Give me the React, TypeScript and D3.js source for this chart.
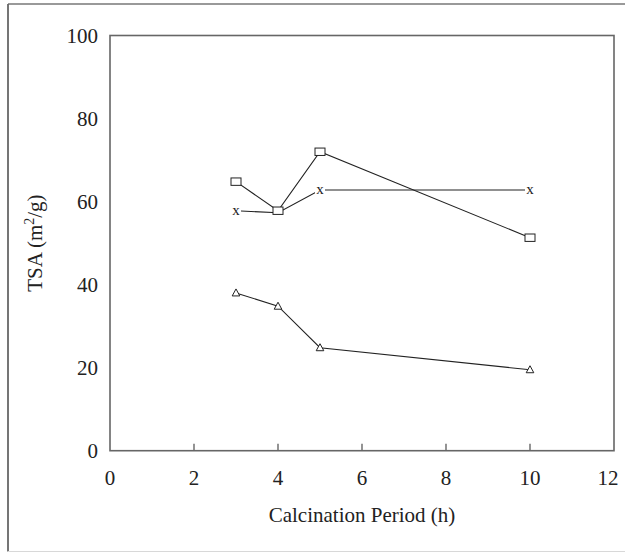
import React from "react";
import * as d3 from "d3";

const periods = [3, 4, 5, 10];
const squareSeries = [64.8, 57.8, 72.0, 51.3];
const crossSeries = [57.8, 57.3, 62.8, 62.8];
const triangleSeries = [38.0, 34.8, 24.8, 19.5];
const xTicks = [0, 2, 4, 6, 8, 10, 12];
const yTicks = [0, 20, 40, 60, 80, 100];

const W = 625;
const H = 553;
const L = 110;
const R = 614;
const T = 35.5;
const B = 450.7;
const FONT = "'Liberation Serif', 'Times New Roman', serif";

export default function App() {
  const x = d3.scaleLinear().domain([0, 12]).range([L, R]);
  const y = d3.scaleLinear().domain([0, 100]).range([B, T]);
  const line = d3
    .line<[number, number]>()
    .x((d) => x(d[0]))
    .y((d) => y(d[1]));
  const sq = periods.map((p, i) => [p, squareSeries[i]] as [number, number]);
  const cr = periods.map((p, i) => [p, crossSeries[i]] as [number, number]);
  const tr = periods.map((p, i) => [p, triangleSeries[i]] as [number, number]);
  const lineColor = "#222";

  return (
    <svg
      width={W}
      height={H}
      style={{ position: "absolute", left: 0, top: 0, background: "#fff" }}
      fontFamily={FONT}
    >
      <rect x={0} y={0} width={W} height={H} fill="#fff" />
      {/* outer frame */}
      <line x1={8} y1={4} x2={W + 2} y2={4} stroke="#777" strokeWidth={1.5} />
      <line x1={8} y1={4} x2={8} y2={551.5} stroke="#666" strokeWidth={1.8} />
      <line x1={8} y1={551.5} x2={W + 2} y2={551.5} stroke="#d8d8d8" strokeWidth={1} />

      {/* plot box */}
      <rect x={L} y={T} width={R - L} height={B - T} fill="none" stroke="#666" strokeWidth={1.6} />

      {/* x ticks inward */}
      {xTicks.filter((t) => t > 0 && t < 12).map((t) => (
        <line key={"xt" + t} x1={x(t)} x2={x(t)} y1={B} y2={B - 7} stroke="#666" strokeWidth={1.4} />
      ))}
      {xTicks.map((t) => (
        <text
          key={"xl" + t}
          x={t === 12 ? x(t) - 6 : x(t)}
          y={485}
          textAnchor="middle"
          fontSize={21}
          fill="#222"
        >
          {t}
        </text>
      ))}
      {yTicks.map((t) => (
        <text
          key={"yl" + t}
          x={98}
          y={y(t)}
          dy="0.34em"
          textAnchor="end"
          fontSize={21}
          fill="#222"
        >
          {t}
        </text>
      ))}

      <text x={(L + R) / 2} y={522} textAnchor="middle" fontSize={21} fill="#222">
        Calcination Period (h)
      </text>
      <text
        transform={`translate(42, ${(T + B) / 2}) rotate(-90)`}
        textAnchor="middle"
        fontSize={21}
        fill="#222"
      >
        TSA (m
        <tspan fontSize={14} dy={-8}>2</tspan>
        <tspan dy={8}>/g)</tspan>
      </text>

      {/* lines */}
      <path d={line(sq) || ""} fill="none" stroke={lineColor} strokeWidth={1.1} />
      <path d={line(cr) || ""} fill="none" stroke={lineColor} strokeWidth={1.1} />
      <path d={line(tr) || ""} fill="none" stroke={lineColor} strokeWidth={1.1} />

      {/* cross markers (hidden where a square marker covers them) */}
      {cr.map((d, i) =>
        Math.abs(d[1] - squareSeries[i]) < 1.5 ? null : (
          <g key={"c" + i}>
            <rect x={x(d[0]) - 5} y={y(d[1]) - 5} width={10} height={10} fill="#fff" />
            <text x={x(d[0])} y={y(d[1])} dy="0.3em" textAnchor="middle" fontSize={15} fill="#222">
              x
            </text>
          </g>
        )
      )}
      {/* square markers */}
      {sq.map((d, i) => (
        <rect
          key={"s" + i}
          x={x(d[0]) - 5}
          y={y(d[1]) - 3.7}
          width={10}
          height={7.4}
          fill="#fff"
          stroke="#222"
          strokeWidth={1}
        />
      ))}
      {/* triangle markers */}
      {tr.map((d, i) => {
        const cx = x(d[0]);
        const cy = y(d[1]);
        return (
          <path
            key={"t" + i}
            d={`M${cx},${cy - 4}L${cx + 3.8},${cy + 3}L${cx - 3.8},${cy + 3}Z`}
            fill="#fff"
            stroke="#222"
            strokeWidth={1}
          />
        );
      })}
    </svg>
  );
}
